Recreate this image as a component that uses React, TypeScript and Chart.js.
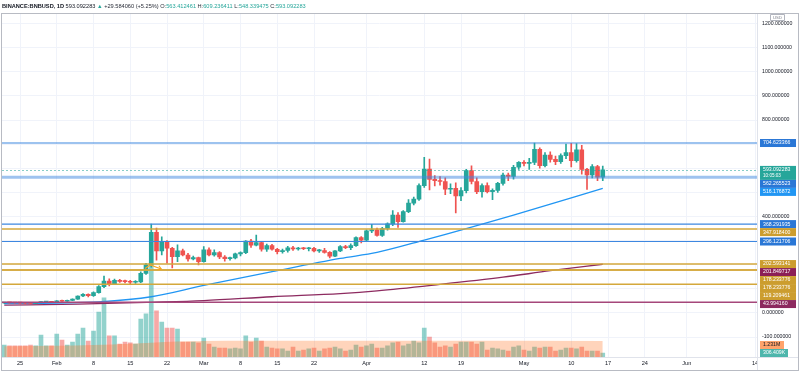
import React, { useEffect, useRef } from "react";
import { Chart, registerables } from "chart.js";

Chart.register(...registerables);

// ---------------- DATA ----------------
const firstCandleDate = "2021-01-22";
const axisOriginDate = "2021-01-25";

const opens = [
  41, 42.5, 41.5, 41, 40.5, 40, 39.5, 42.5, 44.5, 45,
  44, 50, 48.5, 52, 57, 70, 77, 71, 84, 109, 132, 121, 135, 131, 130, 127, 129, 164, 199, 334, 257, 295, 268, 233, 257, 240, 224, 229,
  212, 262, 240, 250, 232, 225, 228, 245, 250, 298, 281, 292, 264, 279, 264, 254, 259, 270, 265, 267, 266, 268, 257, 259, 251, 235, 257, 275, 271, 279, 312,
  302, 340, 345, 321, 350, 369, 406, 378, 420, 455, 472, 528, 597, 554, 548, 545, 513, 517, 485, 507, 590, 545, 503, 528, 503, 508, 537, 572, 566, 604,
  625, 620, 624, 678, 611, 655, 637, 627, 652, 665, 631, 676, 595, 572, 607, 563.412461,
];
const highs = [
  44, 44, 43, 43.5, 42, 41.5, 43, 47, 46.5, 46,
  51.5, 53, 53.5, 58, 71, 80, 79, 87, 113, 153, 141, 140, 139, 136, 135, 134, 170, 206, 368.29, 352, 316, 300, 272, 282, 265, 247, 236, 232,
  275, 270, 262, 254, 238, 232, 248, 253, 300, 305, 323, 296, 285, 284, 268, 265, 276, 276, 272, 272, 272, 272, 264, 268, 254, 259, 279, 280, 286, 316, 317,
  345, 367, 352, 355, 374, 424, 416, 424, 470, 480, 535, 645, 638, 570, 565, 560, 535, 540, 520, 595, 610, 560, 535, 540, 515, 542, 580, 580, 612, 628,
  632, 641, 704.62, 685, 665, 668, 650, 660, 700, 703, 702, 695, 600, 615, 612, 609.236411,
];
const lows = [
  39, 40.5, 40, 39.5, 38.5, 37.5, 39, 41.5, 43, 43,
  43.5, 47.5, 48, 51, 56, 67, 66, 68, 82, 105, 112, 117, 126, 124, 121, 122, 125, 160, 190, 219, 240, 206, 187, 213, 236, 215, 220, 199,
  210, 236, 235, 225, 215, 219, 224, 236, 246, 272, 278, 256, 255, 260, 245, 248, 252, 259, 260, 262, 257, 253, 251, 248, 228, 233, 254, 266, 262, 276, 290,
  300, 333, 318, 317, 343, 362, 355, 376, 416, 448, 467, 520, 510, 527, 530, 490, 495, 415, 465, 498, 535, 495, 480, 498, 470, 500, 530, 548, 555, 595,
  610, 595, 615, 600, 605, 625, 615, 620, 640, 605, 625, 575, 512, 560, 548, 548.339475,
];
const closes = [
  42.5, 41.5, 41, 40.5, 40, 39.5, 42.5, 44.5, 45, 44,
  50, 48.5, 52, 57, 70, 77, 71, 84, 109, 132, 121, 135, 131, 130, 127, 129, 164, 199, 334, 257, 295, 268, 233, 257, 240, 224, 229, 212,
  262, 240, 250, 232, 225, 228, 245, 250, 298, 281, 292, 264, 279, 264, 254, 259, 270, 265, 267, 266, 268, 257, 259, 251, 235, 257, 275, 271, 279, 312, 302,
  340, 345, 321, 350, 369, 406, 378, 420, 455, 472, 528, 597, 554, 548, 545, 513, 517, 485, 507, 590, 545, 503, 528, 503, 508, 537, 572, 566, 604, 625,
  620, 624, 678, 611, 655, 637, 627, 652, 665, 631, 676, 595, 572, 607, 563.41, 593.092283,
];
// volume in millions
const volumes = [
  0.92, 0.85, 0.85, 0.85, 0.85, 0.92, 0.85, 1.69, 0.85, 0.85,
  1.77, 1.31, 0.92, 1.15, 1.77, 2.23, 1.23, 2.0, 3.46, 4.54, 1.62, 1.62, 1.0, 1.15, 1.08, 1.0, 2.92, 3.31, 7.08, 3.54, 2.69, 2.23, 2.23, 2.15, 1.15, 1.15, 1.15, 1.08,
  1.46, 1.0, 0.77, 0.69, 0.69, 0.62, 0.69, 0.62, 1.62, 1.15, 1.46, 1.23, 0.77, 0.69, 0.62, 0.62, 0.46, 0.77, 0.46, 0.54, 0.62, 0.69, 0.46, 0.62, 0.69, 0.77, 0.62, 0.46, 0.54, 0.92, 0.77,
  0.85, 1.0, 0.69, 0.69, 0.85, 1.08, 1.15, 0.85, 1.0, 1.23, 1.08, 2.23, 1.54, 1.08, 0.77, 0.85, 0.77, 1.0, 1.15, 1.15, 1.15, 1.0, 1.15, 0.54, 0.69, 0.62, 0.54, 0.46, 0.77, 0.85,
  0.54, 0.46, 0.77, 0.69, 0.77, 0.77, 0.46, 0.54, 0.69, 0.69, 0.62, 0.77, 0.46, 0.46, 0.46, 0.306409,
];

const volMaDates = ["2021-01-22", "2021-02-01", "2021-02-08", "2021-02-15", "2021-02-19", "2021-02-24", "2021-03-15", "2021-04-15", "2021-05-16"];
const volMaValues = [0.82, 0.86, 0.92, 1.02, 1.1, 1.2, 1.25, 1.24, 1.231];

const fastMaDates = ["2021-01-22", "2021-02-01", "2021-02-09", "2021-02-19", "2021-03-01", "2021-03-14", "2021-03-27", "2021-04-03", "2021-04-12", "2021-04-29", "2021-05-16"];
const fastMaValues = [39, 41, 46, 67, 114, 171, 226, 251, 302, 406, 516.176872];

const slowMaDates = ["2021-01-22", "2021-02-05", "2021-02-19", "2021-03-01", "2021-03-14", "2021-03-27", "2021-04-03", "2021-04-15", "2021-04-27", "2021-05-06", "2021-05-16"];
const slowMaValues = [32, 36, 44, 51, 67, 80, 91, 118, 148, 175, 201.849717];

const levelValues = [704.623366, 562.265523, 368.291935, 347.9184, 296.121706, 202.593141, 178.233776, 178.233776, 119.209461, 43.99416];
const levelStyles = ["blue", "blueWide", "blue", "gold", "blue", "gold", "gold", "gold", "gold", "maroon"];

const xTickDates = ["2021-01-25", "2021-02-01", "2021-02-08", "2021-02-15", "2021-02-22", "2021-03-01", "2021-03-08", "2021-03-15", "2021-03-22", "2021-04-01", "2021-04-12", "2021-04-19", "2021-05-01", "2021-05-10", "2021-05-17", "2021-05-24", "2021-06-01", "2021-06-14"];
const xTickLabels = ["25", "Feb", "8", "15", "22", "Mar", "8", "15", "22", "Apr", "12", "19", "May", "10", "17", "24", "Jun", "14"];

const priceTicks = [1200, 1100, 1000, 900, 800, 700, 600, 500, 400, 300, 200, 100, 0, -100];

// orange arrow annotation (days after axis origin, price)
const arrowDays = [23.8, 24.8, 26.9];
const arrowPrices = [184, 199, 182];

const headerParts: [string, string, string][] = [
  ["BINANCE:BNBUSD, 1D", "#131722", "bold"],
  [" 593.092283 ", "#131722", "normal"],
  ["\u25B2", "#26a69a", "normal"],
  [" +29.584060 (+5.25%) ", "#2a2e39", "normal"],
  ["O:", "#2a2e39", "normal"],
  ["563.412461", "#26a69a", "normal"],
  [" H:", "#2a2e39", "normal"],
  ["609.236411", "#26a69a", "normal"],
  [" L:", "#2a2e39", "normal"],
  ["548.339475", "#26a69a", "normal"],
  [" C:", "#2a2e39", "normal"],
  ["593.092283", "#26a69a", "normal"],
];
const countdownText = "10:05:03";

// ---------------- STYLE ----------------
const UP = "#26a69a";
const DOWN = "#ef5350";
const UP_VOL = "rgba(38,166,154,0.5)";
const DOWN_VOL = "rgba(239,83,80,0.5)";
const FAST_MA = "#2196f3";
const SLOW_MA = "#8d2b60";
const FONT = '"Liberation Sans", Arial, sans-serif';
const STYLES: Record<string, { line: string; width: number; box: string }> = {
  blue: { line: "#3d87e0", width: 1.2, box: "#2a77d6" },
  blueWide: { line: "rgba(61,135,224,0.5)", width: 3, box: "#2a77d6" },
  gold: { line: "#d4a83c", width: 1.5, box: "#cc9d2e" },
  maroon: { line: "#a5477a", width: 1.5, box: "#8c2a5f" },
};

const DAY = 86400000;
const dayNum = (iso: string) => (Date.parse(iso) - Date.parse(axisOriginDate)) / DAY;
const firstDay = dayNum(firstCandleDate);

const fmtVol = (v: number) => (v >= 1 ? v.toFixed(3) + "M" : (v * 1000).toFixed(3) + "K");

const overlayPlugin = {
  id: "overlay",
  afterDatasetsDraw(chart: any) {
    const { ctx, chartArea: a, scales } = chart;
    const ys = scales.y;
    const xs = scales.x;
    ctx.save();
    ctx.beginPath();
    ctx.rect(a.left, a.top, a.right - a.left, a.bottom - a.top);
    ctx.clip();
    const cp = Math.round(ys.getPixelForValue(closes[closes.length - 1])) + 0.5;
    ctx.strokeStyle = "rgba(38,166,154,0.55)";
    ctx.lineWidth = 1;
    ctx.setLineDash([2, 2]);
    ctx.beginPath();
    ctx.moveTo(a.left, cp);
    ctx.lineTo(a.right, cp);
    ctx.stroke();
    ctx.setLineDash([]);
    levelValues.forEach((v, i) => {
      const st = STYLES[levelStyles[i]];
      const py = ys.getPixelForValue(v);
      ctx.strokeStyle = st.line;
      ctx.lineWidth = st.width;
      ctx.beginPath();
      ctx.moveTo(a.left, py);
      ctx.lineTo(a.right, py);
      ctx.stroke();
    });
    const pts = arrowDays.map((d, i) => [xs.getPixelForValue(d), ys.getPixelForValue(arrowPrices[i])]);
    ctx.strokeStyle = "#f5a623";
    ctx.lineWidth = 1.1;
    ctx.beginPath();
    ctx.moveTo(pts[0][0], pts[0][1]);
    for (let i = 1; i < pts.length; i++) ctx.lineTo(pts[i][0], pts[i][1]);
    ctx.stroke();
    const [px1, py1] = pts[pts.length - 2];
    const [px2, py2] = pts[pts.length - 1];
    const ang = Math.atan2(py2 - py1, px2 - px1);
    ctx.beginPath();
    ctx.moveTo(px2 - 4 * Math.cos(ang - 0.6), py2 - 4 * Math.sin(ang - 0.6));
    ctx.lineTo(px2, py2);
    ctx.lineTo(px2 - 4 * Math.cos(ang + 0.6), py2 - 4 * Math.sin(ang + 0.6));
    ctx.stroke();
    ctx.restore();
  },
  afterDraw(chart: any) {
    const { ctx, chartArea: a, scales } = chart;
    const ys = scales.y;
    const vs = scales.y2;
    const W = chart.width;
    const H = chart.height;
    ctx.save();
    ctx.strokeStyle = "#e0e3eb";
    ctx.lineWidth = 1;
    ctx.beginPath();
    ctx.moveTo(Math.round(a.right) + 0.5, a.top);
    ctx.lineTo(Math.round(a.right) + 0.5, H - 1.5);
    ctx.moveTo(1.5, Math.round(a.bottom) + 0.5);
    ctx.lineTo(W - 1.5, Math.round(a.bottom) + 0.5);
    ctx.stroke();
    ctx.strokeStyle = "#b8bbc3";
    ctx.strokeRect(1.5, Math.round(a.top) - 0.5, W - 3, H - Math.round(a.top) - 1);

    // header
    let hx = 2;
    ctx.textBaseline = "middle";
    ctx.textAlign = "left";
    headerParts.forEach(([t, c, w]) => {
      ctx.font = `${w} 5.65px ${FONT}`;
      ctx.fillStyle = c;
      ctx.fillText(t, hx, 6);
      hx += ctx.measureText(t).width;
    });

    // price labels with push-down stacking
    const entries: any[] = levelValues.map((v, i) => ({ value: v, bg: STYLES[levelStyles[i]].box, fg: "#ffffff" }));
    entries.push({ value: fastMaValues[fastMaValues.length - 1], bg: FAST_MA, fg: "#ffffff" });
    entries.push({ value: slowMaValues[slowMaValues.length - 1], bg: "#8c1f56", fg: "#ffffff" });
    entries.push({ value: closes[closes.length - 1], bg: UP, fg: "#ffffff", sub: countdownText });
    entries.forEach((e) => (e.py = ys.getPixelForValue(e.value)));
    entries.sort((p, q) => p.py - q.py);
    let prev = -Infinity;
    entries.forEach((e) => {
      e.h = e.sub ? 14 : 8;
      e.top = Math.max(e.py - 4, prev);
      prev = e.top + e.h;
    });

    const bx = a.right + 3;
    ctx.font = `5.2px ${FONT}`;
    ctx.fillStyle = "#131722";
    const tickBoxes: { top: number; bottom: number }[] = [];
    priceTicks.forEach((v) => {
      const py = ys.getPixelForValue(v);
      if (py < a.top || py > a.bottom) return;
      const hidden = entries.some((e) => py + 3 > e.top && py - 3 < e.top + e.h);
      if (!hidden) {
        ctx.fillText(v.toFixed(6), bx + 2, py);
        tickBoxes.push({ top: py - 4, bottom: py + 4 });
      }
    });

    entries.forEach((e) => {
      ctx.fillStyle = e.bg;
      ctx.fillRect(bx, e.top, 36, e.h);
      ctx.fillStyle = e.fg;
      ctx.font = `5.2px ${FONT}`;
      ctx.fillText(e.value.toFixed(6), bx + 3, e.top + 4);
      if (e.sub) {
        ctx.font = `4.6px ${FONT}`;
        ctx.fillText(e.sub, bx + 3, e.top + 10.3);
      }
    });

    // volume labels (pushed below overlapping tick labels)
    const volEntries: any[] = [
      { value: volMaValues[volMaValues.length - 1], bg: "#ffa36b", fg: "#131722", w: 24 },
      { value: volumes[volumes.length - 1], bg: "#4db6ac", fg: "#ffffff", w: 28 },
    ];
    volEntries.forEach((e) => (e.py = vs.getPixelForValue(e.value)));
    volEntries.sort((p, q) => p.py - q.py);
    prev = -Infinity;
    volEntries.forEach((e) => {
      let top = Math.max(e.py - 4, prev);
      tickBoxes.forEach((t) => {
        if (top < t.bottom && top + 8 > t.top) top = t.bottom;
      });
      e.top = top;
      prev = top + 8;
      ctx.fillStyle = e.bg;
      ctx.fillRect(bx, e.top, e.w, 8);
      ctx.fillStyle = e.fg;
      ctx.font = `5.2px ${FONT}`;
      ctx.fillText(fmtVol(e.value), bx + 3, e.top + 4);
    });

    // currency tag
    ctx.fillStyle = "#ffffff";
    ctx.strokeStyle = "#b2b5be";
    ctx.beginPath();
    ctx.rect(770.5, 14.5, 14, 6);
    ctx.fill();
    ctx.stroke();
    ctx.fillStyle = "#787b86";
    ctx.textAlign = "center";
    ctx.font = `4.2px ${FONT}`;
    ctx.fillText("USD", 777.5, 17.6);
    ctx.restore();
  },
};

export default function App() {
  const ref = useRef<HTMLCanvasElement | null>(null);
  useEffect(() => {
    if (!ref.current) return;
    const n = closes.length;
    const xsOf = (i: number) => firstDay + i;
    const isUp = (i: number) => closes[i] >= opens[i];
    const wickData = Array.from({ length: n }, (_, i) => ({ x: xsOf(i), y: [lows[i], highs[i]] }));
    const bodyData = Array.from({ length: n }, (_, i) => ({ x: xsOf(i), y: [opens[i], closes[i]] }));
    const volData = volumes.map((v, i) => ({ x: xsOf(i), y: v }));
    const colors = closes.map((_, i) => (isUp(i) ? UP : DOWN));
    const volColors = closes.map((_, i) => (isUp(i) ? UP_VOL : DOWN_VOL));

    const xMin = -3.43;
    const xMax = 140.38;

    const chart = new Chart(ref.current, {
      type: "bar",
      data: {
        datasets: [
          {
            type: "bar",
            label: "body",
            data: bodyData as any,
            backgroundColor: colors,
            borderWidth: 0,
            barThickness: 4,
            grouped: false,
            minBarLength: 1,
            order: 0,
            yAxisID: "y",
          } as any,
          {
            type: "bar",
            label: "wick",
            data: wickData as any,
            backgroundColor: colors,
            borderWidth: 0,
            barThickness: 1,
            grouped: false,
            order: 1,
            yAxisID: "y",
          } as any,
          {
            type: "line",
            label: "fastMA",
            data: fastMaDates.map((d, i) => ({ x: dayNum(d), y: fastMaValues[i] })),
            borderColor: FAST_MA,
            borderWidth: 1.3,
            pointRadius: 0,
            cubicInterpolationMode: "monotone",
            order: 2,
            yAxisID: "y",
          } as any,
          {
            type: "line",
            label: "slowMA",
            data: slowMaDates.map((d, i) => ({ x: dayNum(d), y: slowMaValues[i] })),
            borderColor: SLOW_MA,
            borderWidth: 1.3,
            pointRadius: 0,
            cubicInterpolationMode: "monotone",
            order: 3,
            yAxisID: "y",
          } as any,
          {
            type: "line",
            label: "volMA",
            data: volMaDates.map((d, i) => ({ x: dayNum(d), y: volMaValues[i] })),
            borderWidth: 0,
            borderColor: "rgba(0,0,0,0)",
            backgroundColor: "rgba(255,112,30,0.3)",
            fill: "origin",
            pointRadius: 0,
            cubicInterpolationMode: "monotone",
            order: 4,
            yAxisID: "y2",
          } as any,
          {
            type: "bar",
            label: "volume",
            data: volData as any,
            backgroundColor: volColors,
            borderWidth: 0,
            barThickness: 4,
            grouped: false,
            order: 5,
            yAxisID: "y2",
          } as any,
        ],
      },
      options: {
        responsive: false,
        animation: false,
        devicePixelRatio: 1,
        layout: { padding: { left: 2, right: 2, top: 13.5, bottom: 1 } },
        plugins: { legend: { display: false }, tooltip: { enabled: false }, title: { display: false } },
        scales: {
          x: {
            type: "linear",
            min: xMin,
            max: xMax,
            offset: false,
            afterBuildTicks: (s: any) => {
              s.ticks = xTickDates.map((d) => ({ value: dayNum(d) }));
            },
            afterFit: (s: any) => {
              s.height = 14;
            },
            ticks: {
              autoSkip: false,
              maxRotation: 0,
              minRotation: 0,
              padding: 3,
              color: "#131722",
              font: { size: 5.6, family: FONT },
              callback: (_v: any, i: number) => xTickLabels[i],
            },
            grid: { color: "#f0f3fa", drawTicks: false, offset: false },
            border: { display: false },
          },
          y: {
            type: "linear",
            position: "right",
            min: -182.9,
            max: 1241.8,
            beginAtZero: false,
            afterBuildTicks: (s: any) => {
              s.ticks = priceTicks.map((v) => ({ value: v }));
            },
            afterFit: (s: any) => {
              s.width = 41;
            },
            ticks: { display: false },
            grid: { color: "#f0f3fa", drawTicks: false },
            border: { display: false },
          },
          y2: {
            type: "linear",
            display: false,
            min: 0,
            max: 26.4,
          },
        },
      } as any,
      plugins: [overlayPlugin],
    });
    return () => chart.destroy();
  }, []);

  return (
    <div style={{ position: "fixed", left: 0, top: 0, width: 800, height: 372, background: "#ffffff" }}>
      <canvas ref={ref} width={800} height={372} style={{ display: "block" }} />
    </div>
  );
}
